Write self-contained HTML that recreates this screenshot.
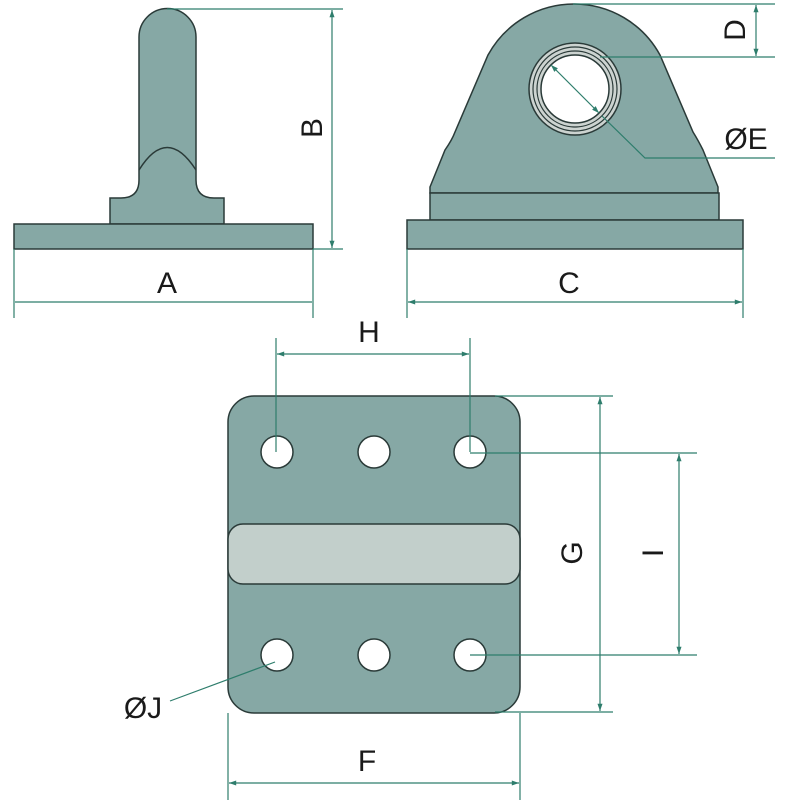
<!DOCTYPE html>
<html><head><meta charset="utf-8"><style>
html,body{margin:0;padding:0;background:#fff;}
svg{display:block;}
text{font-family:"Liberation Sans",sans-serif;fill:#1a1a1a;}
</style></head><body>
<svg width="800" height="800" viewBox="0 0 800 800" xmlns="http://www.w3.org/2000/svg">
<defs>
<marker id="a" viewBox="0 0 10 10" refX="10" refY="5" markerWidth="8" markerHeight="6" orient="auto-start-reverse">
<path d="M0,1.5 L10,5 L0,8.5 z" fill="#2e7d6c"/></marker>
</defs>
<g fill="#86a8a5" stroke="#2a3a38" stroke-width="1.5">
<!-- left view -->
<path d="M139,37 A28,28 0 0 1 196,37 L196,180 Q196,198 214,198 L224,198 L224,224 L110,224 L110,198 L121,198 Q139,198 139,180 Z"/>
<path d="M139,170 Q167,125 196,170" fill="none"/>
<rect x="14" y="224" width="299" height="25"/>
<!-- right view -->
<path d="M430,193 L430,187 L445,150 Q452,140 455,132 L488,55 A98,98 0 0 1 660,55 L693,132 Q698,140 703,150 L718,187 L718,193 Z"/>
<rect x="430" y="193" width="289" height="27"/>
<rect x="407" y="220" width="336" height="29"/>
<circle cx="575" cy="89" r="46" fill="#ccd3d0"/>
<circle cx="575" cy="89" r="42" fill="none" stroke-width="1.2"/>
<circle cx="575" cy="89" r="38" fill="none" stroke-width="1.2"/>
<circle cx="575" cy="89" r="34" fill="#fff"/>
<!-- bottom view -->
<rect x="228" y="396" width="292" height="317" rx="26"/>
<rect x="228" y="524" width="292" height="60" rx="15" fill="#c2cfcb"/>
<g fill="#fff">
<circle cx="277" cy="452" r="16"/><circle cx="374" cy="452" r="16"/><circle cx="470" cy="452" r="16"/>
<circle cx="277" cy="655" r="16"/><circle cx="374" cy="655" r="16"/><circle cx="470" cy="655" r="16"/>
</g>
</g>
<g stroke="#2e7d6c" stroke-width="1.2" fill="none">
<!-- B -->
<line x1="167" y1="9" x2="343" y2="9"/><line x1="313" y1="249" x2="343" y2="249"/>
<line x1="332" y1="10" x2="332" y2="248" marker-start="url(#a)" marker-end="url(#a)"/>
<!-- A -->
<line x1="14" y1="249" x2="14" y2="318"/><line x1="313" y1="249" x2="313" y2="318"/>
<line x1="15" y1="302" x2="312" y2="302"/>
<!-- C -->
<line x1="407" y1="249" x2="407" y2="318"/><line x1="743" y1="249" x2="743" y2="318"/>
<line x1="408" y1="302" x2="742" y2="302" marker-start="url(#a)" marker-end="url(#a)"/>
<!-- D -->
<line x1="573" y1="4" x2="775" y2="4"/><line x1="600" y1="57" x2="775" y2="57"/>
<line x1="756" y1="5" x2="756" y2="56" marker-start="url(#a)" marker-end="url(#a)"/>
<!-- E -->
<line x1="551" y1="65" x2="599" y2="113" marker-start="url(#a)" marker-end="url(#a)"/>
<polyline points="602,116 645,158 775,158"/>
<!-- H -->
<line x1="276" y1="338" x2="276" y2="452"/><line x1="470" y1="338" x2="470" y2="452"/>
<line x1="277" y1="354" x2="469" y2="354" marker-start="url(#a)" marker-end="url(#a)"/>
<!-- G -->
<line x1="495" y1="396" x2="613" y2="396"/><line x1="495" y1="712" x2="613" y2="712"/>
<line x1="600" y1="397" x2="600" y2="711" marker-start="url(#a)" marker-end="url(#a)"/>
<!-- I -->
<line x1="470" y1="453" x2="697" y2="453"/><line x1="470" y1="655" x2="697" y2="655"/>
<line x1="679" y1="454" x2="679" y2="654" marker-start="url(#a)" marker-end="url(#a)"/>
<!-- F -->
<line x1="228" y1="713" x2="228" y2="800"/><line x1="520" y1="713" x2="520" y2="800"/>
<line x1="229" y1="783" x2="519" y2="783" marker-start="url(#a)" marker-end="url(#a)"/>
<!-- J -->
<line x1="275" y1="662" x2="170" y2="701"/>
</g>
<g font-size="30">
<text x="167" y="293" text-anchor="middle">A</text>
<text x="569" y="293" text-anchor="middle">C</text>
<text x="746" y="149" text-anchor="middle">ØE</text>
<text x="369" y="342" text-anchor="middle">H</text>
<text x="367" y="771" text-anchor="middle">F</text>
<text x="143" y="718" text-anchor="middle">ØJ</text>
<text transform="translate(322,128) rotate(-90)" text-anchor="middle">B</text>
<text transform="translate(745,30) rotate(-90)" text-anchor="middle">D</text>
<text transform="translate(582,553) rotate(-90)" text-anchor="middle">G</text>
<text transform="translate(663,553) rotate(-90)" text-anchor="middle">I</text>
</g>
</svg>
</body></html>
